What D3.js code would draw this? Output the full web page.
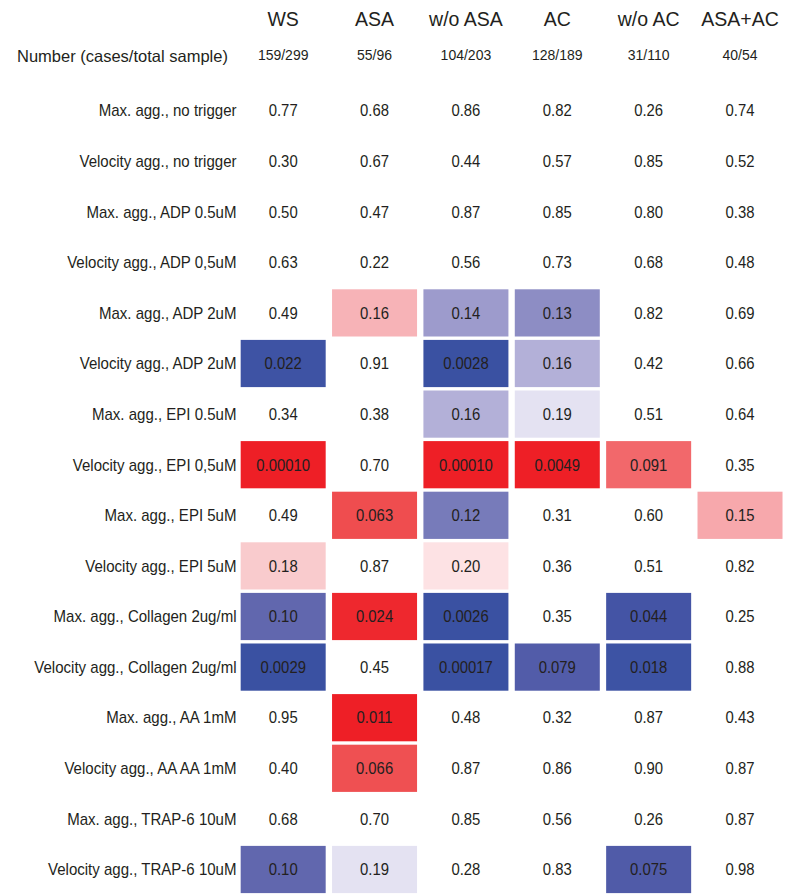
<!DOCTYPE html>
<html>
<head>
<meta charset="utf-8">
<script src="https://cdn.jsdelivr.net/npm/d3@7"></script>
<style>
  html, body { margin: 0; padding: 0; background: #fff; }
  svg { display: block; font-family: "Liberation Sans", Arial, Helvetica, sans-serif; }
</style>
</head>
<body>
<svg id="chart" width="796" height="896"></svg>
<script>
// ---- data ----
const columns = ["WS", "ASA", "w/o ASA", "AC", "w/o AC", "ASA+AC"];
const counts = ["159/299", "55/96", "104/203", "128/189", "31/110", "40/54"];
const countLabel = "Number (cases/total sample)";
const rows = [
  "Max. agg., no trigger",
  "Velocity agg., no trigger",
  "Max. agg., ADP 0.5uM",
  "Velocity agg., ADP 0,5uM",
  "Max. agg., ADP 2uM",
  "Velocity agg., ADP 2uM",
  "Max. agg., EPI 0.5uM",
  "Velocity agg., EPI 0,5uM",
  "Max. agg., EPI 5uM",
  "Velocity agg., EPI 5uM",
  "Max. agg., Collagen 2ug/ml",
  "Velocity agg., Collagen 2ug/ml",
  "Max. agg., AA 1mM",
  "Velocity agg., AA AA 1mM",
  "Max. agg., TRAP-6 10uM",
  "Velocity agg., TRAP-6 10uM"
];
// p-values, one array per row (columns in order above)
const pValues = [
  [0.77, 0.68, 0.86, 0.82, 0.26, 0.74],
  [0.30, 0.67, 0.44, 0.57, 0.85, 0.52],
  [0.50, 0.47, 0.87, 0.85, 0.80, 0.38],
  [0.63, 0.22, 0.56, 0.73, 0.68, 0.48],
  [0.49, 0.16, 0.14, 0.13, 0.82, 0.69],
  [0.022, 0.91, 0.0028, 0.16, 0.42, 0.66],
  [0.34, 0.38, 0.16, 0.19, 0.51, 0.64],
  [0.00010, 0.70, 0.00010, 0.0049, 0.091, 0.35],
  [0.49, 0.063, 0.12, 0.31, 0.60, 0.15],
  [0.18, 0.87, 0.20, 0.36, 0.51, 0.82],
  [0.10, 0.024, 0.0026, 0.35, 0.044, 0.25],
  [0.0029, 0.45, 0.00017, 0.079, 0.018, 0.88],
  [0.95, 0.011, 0.48, 0.32, 0.87, 0.43],
  [0.40, 0.066, 0.87, 0.86, 0.90, 0.87],
  [0.68, 0.70, 0.85, 0.56, 0.26, 0.87],
  [0.10, 0.19, 0.28, 0.83, 0.075, 0.98]
];
// direction of effect: 1 = increase (red), -1 = decrease (blue), 0 = not shaded
const direction = [
  [0, 0, 0, 0, 0, 0],
  [0, 0, 0, 0, 0, 0],
  [0, 0, 0, 0, 0, 0],
  [0, 0, 0, 0, 0, 0],
  [0, 1, -1, -1, 0, 0],
  [-1, 0, -1, -1, 0, 0],
  [0, 0, -1, -1, 0, 0],
  [1, 0, 1, 1, 1, 0],
  [0, 1, -1, 0, 0, 1],
  [1, 0, 1, 0, 0, 0],
  [-1, 1, -1, 0, -1, 0],
  [-1, 0, -1, -1, -1, 0],
  [0, 1, 0, 0, 0, 0],
  [0, 1, 0, 0, 0, 0],
  [0, 0, 0, 0, 0, 0],
  [-1, -1, 0, 0, -1, 0]
];

// ---- scales ----
const svg = d3.select("#chart");
const x = d3.scaleBand().domain(columns).range([237.5, 785.7])
  .paddingInner(0.0696).paddingOuter(0.0348);
const y = d3.scaleBand().domain(rows).range([85.2, 894.8])
  .paddingInner(0.067).paddingOuter(0.0336);

const redScale = d3.scaleLinear()
  .domain([0.015, 0.065, 0.091, 0.155, 0.18, 0.20, 0.225])
  .range(["#EE1F26", "#EF4F51", "#F2686B", "#F7ADB1", "#F9CBCD", "#FDE2E4", "#FFFFFF"])
  .clamp(true);
const blueScale = d3.scaleLinear()
  .domain([0.005, 0.02, 0.044, 0.077, 0.10, 0.12, 0.135, 0.16, 0.19, 0.225])
  .range(["#3A51A2", "#3D53A4", "#4454A5", "#515BA8", "#6167AE", "#777BBA", "#9896C9", "#B3B0D8", "#E4E2F2", "#FFFFFF"])
  .clamp(true);
const fmt = d3.format(".2r");

const cells = [];
rows.forEach((r, i) => columns.forEach((c, j) => {
  cells.push({ row: r, col: c, p: pValues[i][j], dir: direction[i][j] });
}));

// ---- cells ----
svg.append("g").selectAll("rect")
  .data(cells.filter(d => d.dir !== 0))
  .join("rect")
  .attr("x", d => x(d.col))
  .attr("y", d => y(d.row))
  .attr("width", x.bandwidth())
  .attr("height", y.bandwidth())
  .attr("fill", d => d.dir > 0 ? redScale(d.p) : blueScale(d.p));

svg.append("g").selectAll("text")
  .data(cells)
  .join("text")
  .attr("transform", d => `translate(${x(d.col) + x.bandwidth() / 2},${y(d.row) + y.bandwidth() / 2 + 5.8}) scale(0.93,1)`)
  .attr("text-anchor", "middle")
  .attr("font-size", 16)
  .attr("fill", "#231f20")
  .text(d => fmt(d.p));

// ---- row labels ----
svg.append("g").selectAll("text")
  .data(rows)
  .join("text")
  .attr("transform", d => `translate(236.5,${y(d) + y.bandwidth() / 2 + 5.8}) scale(0.94,1)`)
  .attr("text-anchor", "end")
  .attr("font-size", 16)
  .attr("fill", "#231f20")
  .text(d => d);

// ---- column headers ----
svg.append("g").selectAll("text")
  .data(columns)
  .join("text")
  .attr("x", d => x(d) + x.bandwidth() / 2)
  .attr("y", 26)
  .attr("text-anchor", "middle")
  .attr("font-size", 19.5)
  .attr("fill", "#231f20")
  .text(d => d);

svg.append("g").selectAll("text")
  .data(counts)
  .join("text")
  .attr("x", (d, j) => x(columns[j]) + x.bandwidth() / 2)
  .attr("y", 60)
  .attr("text-anchor", "middle")
  .attr("font-size", 14)
  .attr("fill", "#231f20")
  .text(d => d);

svg.append("text")
  .attr("x", 17)
  .attr("y", 61.5)
  .attr("font-size", 16.5)
  .attr("fill", "#231f20")
  .text(countLabel);
</script>
</body>
</html>
